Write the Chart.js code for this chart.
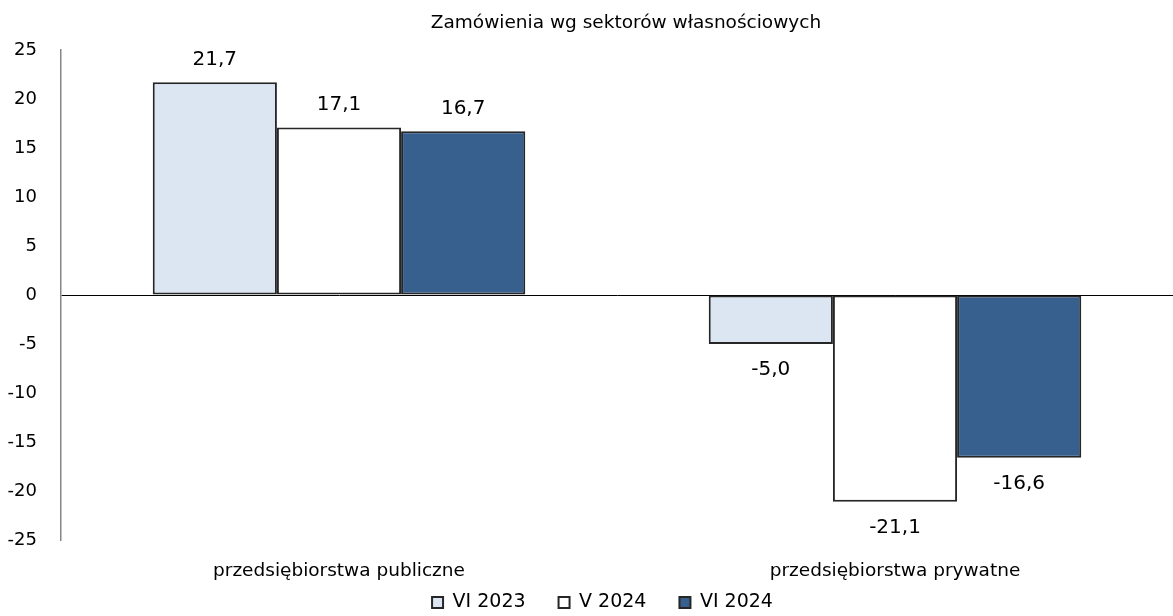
<!doctype html>
<html>
<head>
  <meta charset="utf-8">
  <title>Zamówienia wg sektorów własnościowych</title>
  <script src="https://cdn.jsdelivr.net/npm/chart.js@4/dist/chart.umd.min.js"></script>
  <style>
    html, body { margin: 0; padding: 0; background: #fff; }
    #container { width: 1173px; height: 616px; }
  </style>
</head>
<body>
  <div id="container">
    <canvas id="canvas"></canvas>
  </div>
  <script>
    var categories = ['przedsiębiorstwa publiczne', 'przedsiębiorstwa prywatne'];
    var seriesNames = ['VI 2023', 'V 2024', 'VI 2024'];
    var vi2023 = [21.7, -5.0];
    var v2024 = [17.1, -21.1];
    var vi2024 = [16.7, -16.6];
    var yTicks = [-25, -20, -15, -10, -5, 0, 5, 10, 15, 20, 25];
    var chartTitle = 'Zamówienia wg sektorów własnościowych';

    var FONT = 'DejaVu Sans, Verdana, sans-serif';
    var fills = ['#dce6f2', '#ffffff', '#37608f'];

    function fmt(v) {
      return v.toFixed(1).replace('.', ',');
    }

    // title over the plot area, not the whole canvas
    var titlePlugin = {
      id: 'plotTitle',
      afterDraw: function(chart) {
        var ctx = chart.ctx, area = chart.chartArea;
        ctx.save();
        ctx.font = '18.5px ' + FONT;
        ctx.fillStyle = '#000';
        ctx.textAlign = 'center';
        ctx.textBaseline = 'middle';
        ctx.fillText(chartTitle, (area.left + area.right) / 2 + 9, 23);
        ctx.restore();
      }
    };

    // value labels above / below bars
    var labelPlugin = {
      id: 'valueLabels',
      afterDatasetsDraw: function(chart) {
        var ctx = chart.ctx;
        ctx.save();
        ctx.font = '20px ' + FONT;
        ctx.fillStyle = '#000';
        ctx.textAlign = 'center';
        ctx.textBaseline = 'middle';
        chart.data.datasets.forEach(function(ds, i) {
          chart.getDatasetMeta(i).data.forEach(function(bar, j) {
            var v = ds.data[j];
            var y = v >= 0 ? bar.y - 23 : bar.y + 26;
            ctx.fillText(fmt(v), bar.x, y);
          });
        });
        ctx.restore();
      }
    };

    // legend: keep the wide gaps between items but tuck it under the labels
    var LEGEND_H = 35, LEGEND_UP = 21, LEGEND_RIGHT = 16;
    var legendFit = {
      id: 'legendFit',
      beforeInit: function(chart) {
        var lg = chart.legend;
        var fit = lg.fit, draw = lg.draw;
        lg.fit = function() {
          fit.apply(this, arguments);
          this.height = LEGEND_H;
        };
        lg.draw = function() {
          this.top -= LEGEND_UP; this.left += LEGEND_RIGHT; this.right += LEGEND_RIGHT;
          draw.apply(this, arguments);
          this.top += LEGEND_UP; this.left -= LEGEND_RIGHT; this.right -= LEGEND_RIGHT;
        };
      }
    };

    var seriesData = [vi2023, v2024, vi2024];

    window.onload = function() {
      var ctx = document.getElementById('canvas').getContext('2d');
      window.myBar = new Chart(ctx, {
        type: 'bar',
        data: {
          labels: categories,
          datasets: seriesData.map(function(d, i) {
            return {
              label: seriesNames[i],
              data: d,
              backgroundColor: fills[i],
              borderColor: '#262626',
              borderWidth: 2,
              borderSkipped: false,
              categoryPercentage: 0.67,
              barPercentage: 1.0
            };
          })
        },
        options: {
          responsive: true,
          maintainAspectRatio: false,
          animation: false,
          layout: { padding: { top: 50, right: 0, left: 0, bottom: 0 } },
          plugins: {
            title: { display: false },
            tooltip: { enabled: false },
            legend: {
              position: 'bottom',
              labels: {
                font: { family: FONT, size: 19 },
                color: '#000',
                boxWidth: 11,
                boxHeight: 11,
                padding: 33,
                useBorderRadius: false
              }
            }
          },
          scales: {
            x: {
              grid: { display: false, drawTicks: false },
              border: { display: false },
              afterFit: function(axis) { axis.height = 41; },
              ticks: {
                font: { family: FONT, size: 18.5 },
                color: '#000',
                padding: 20
              }
            },
            y: {
              min: -25,
              max: 25,
              z: 1,
              afterBuildTicks: function(axis) {
                axis.ticks = yTicks.map(function(v) { return { value: v }; });
              },
              afterFit: function(axis) { axis.width = 61; },
              grid: {
                drawTicks: false,
                color: function(c) {
                  return c.tick && c.tick.value === 0 ? '#000' : 'rgba(0,0,0,0)';
                },
                lineWidth: 1
              },
              border: { display: true, color: '#868686', width: 1.5 },
              ticks: {
                font: { family: FONT, size: 18 },
                color: '#000',
                padding: 24
              }
            }
          }
        },
        plugins: [titlePlugin, labelPlugin, legendFit]
      });
    };
  </script>
</body>
</html>
